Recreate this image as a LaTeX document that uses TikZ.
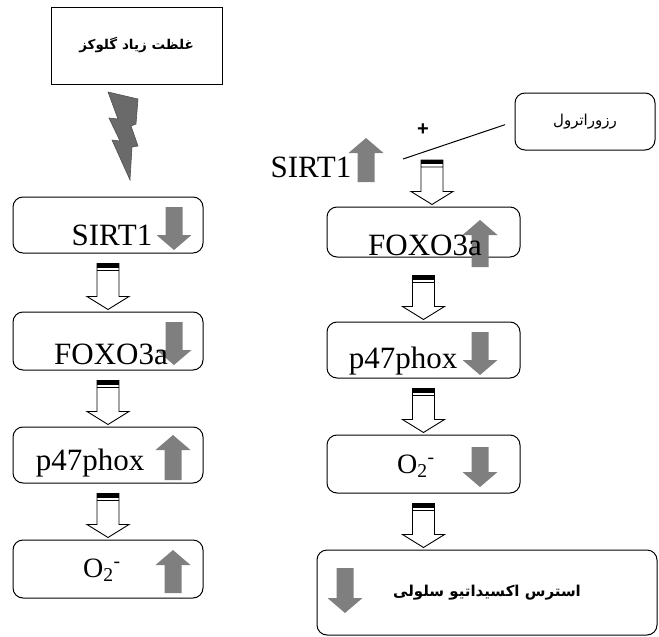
\documentclass[tikz,border=0pt]{standalone}
\usepackage{fontspec}
\setmainfont{Liberation Serif}
\newfontfamily\farsi[Script=Arabic]{DejaVu Sans}
\newfontfamily\plainsans{Liberation Sans}
\TeXXeTstate=1
\usetikzlibrary{calc}
\definecolor{levelgray}{HTML}{7F7F7F}
\definecolor{boltgray}{HTML}{6A6A6A}
\definecolor{boltedge}{HTML}{505050}

\tikzset{
  stepbox/.style={draw, line width=1pt, rounded corners=10pt, inner sep=0pt},
  plainbox/.style={draw, line width=1pt, inner sep=0pt},
  gene/.style={inner sep=0pt, anchor=base, font=\fontsize{31}{36}\selectfont},
  hollow/.style={draw=black, line width=0.9pt, fill=white}
}

\newcommand{\blockarrow}[3][10pt]{%
  \draw[hollow] let \p1=(#2), \p2=(#3) in
    (\x1-11pt,\y1-#1) -- (\x1+11pt,\y1-#1) -- (\x1+11pt,\y2+15pt) -- (\x1+21pt,\y2+15pt)
    -- (\x1,\y2+2pt) -- (\x1-21pt,\y2+15pt) -- (\x1-11pt,\y2+15pt) -- cycle
    (\x1-11pt,\y1-#1-7pt) -- (\x1+11pt,\y1-#1-7pt);
  \fill let \p1=(#2) in (\x1-11pt,\y1-#1) rectangle (\x1+11pt,\y1-#1-4pt);}

\newcommand{\levelarrow}[3]{%
  \pgfmathsetmacro\headbase{#3-15*sign(#3-#2)}
  \fill[levelgray] (#1-8.5,#2) -- (#1+8.5,#2) -- (#1+8.5,\headbase) -- (#1+17.5,\headbase)
    -- (#1,#3) -- (#1-17.5,\headbase) -- (#1-8.5,\headbase) -- cycle;}

\begin{document}
\begin{tikzpicture}[x=1pt, y=-1pt]
\useasboundingbox (0,0) rectangle (659,637);

\node[plainbox, minimum width=171pt, minimum height=77pt] (glucose) at (136.5,45.5)
  {\farsi\bfseries\fontsize{13.5}{16}\selectfont\beginR غلظت زیاد گلوکز\endR};
\filldraw[fill=boltgray, draw=boltedge, line width=0.6pt]
  (108,92) -- (138,99) -- (136,124) -- (131,126) -- (138,146) -- (132,147) -- (130,180)
  -- (112,140) -- (120,141) -- (109,118) -- (118,119) -- cycle;

\node[stepbox, minimum width=190pt, minimum height=56pt] (sirtL) at (108,225) {};
\node[stepbox, minimum width=190pt, minimum height=58pt] (foxL) at (108,341) {};
\node[stepbox, minimum width=190pt, minimum height=56pt] (phoxL) at (108,455) {};
\node[stepbox, minimum width=190pt, minimum height=58pt] (supL) at (108,569) {};

\node[stepbox, minimum width=140pt, minimum height=57pt] (resv) at (585,121.5)
  {\farsi\fontsize{15}{18}\selectfont\beginR رزوراترول\endR};
\node[stepbox, minimum width=193pt, minimum height=50pt] (foxR) at (423.5,232) {};
\node[stepbox, minimum width=193pt, minimum height=56pt] (phoxR) at (423.5,350) {};
\node[stepbox, minimum width=193pt, minimum height=58pt] (supR) at (423.5,464) {};
\node[stepbox, minimum width=340pt, minimum height=85pt] (stress) at (487,592.5)
  {\farsi\bfseries\fontsize{15}{18}\selectfont\beginR استرس اکسیداتیو سلولی\endR};

\levelarrow{174}{207}{250}
\levelarrow{174}{322}{365}
\levelarrow{173}{480}{435}
\levelarrow{173}{593}{550}
\levelarrow{366}{182}{138}
\levelarrow{480}{267}{220}
\levelarrow{480}{332}{375}
\levelarrow{480}{447}{487}
\levelarrow{345}{568}{613}

\node[gene] (sirtLtxt) at (112,245) {SIRT1};
\node[gene] (foxLtxt) at (111,364) {FOXO3a};
\node[gene] (phoxLtxt) at (90,470) {p47phox};
\node[gene, anchor=base west, font=\fontsize{28}{32}\selectfont] (supLtxt) at (83,577)
  {O\textsubscript{2}\textsuperscript{-}};
\node[gene] (sirtRtxt) at (311,177) {SIRT1};
\node[gene] (foxRtxt) at (425,255) {FOXO3a};
\node[gene] (phoxRtxt) at (403,368) {p47phox};
\node[gene, anchor=base west, font=\fontsize{28}{32}\selectfont] (supRtxt) at (397,473)
  {O\textsubscript{2}\textsuperscript{-}};

\node[inner sep=0pt, font=\plainsans\bfseries\fontsize{20}{20}\selectfont] (plus) at (423,130) {+};
\coordinate (sirtRlink) at (403,159);
\draw[line width=1pt, shorten <=10pt] (resv.west) -- (sirtRlink);

\coordinate (sirtRout) at (432,150);
\blockarrow{sirtL.south}{foxL.north}
\blockarrow{foxL.south}{phoxL.north}
\blockarrow{phoxL.south}{supL.north}
\blockarrow{sirtRout}{foxR.north}
\blockarrow[18pt]{foxR.south}{phoxR.north}
\blockarrow{phoxR.south}{supR.north}
\blockarrow{supR.south}{stress.north}
\end{tikzpicture}
\end{document}
